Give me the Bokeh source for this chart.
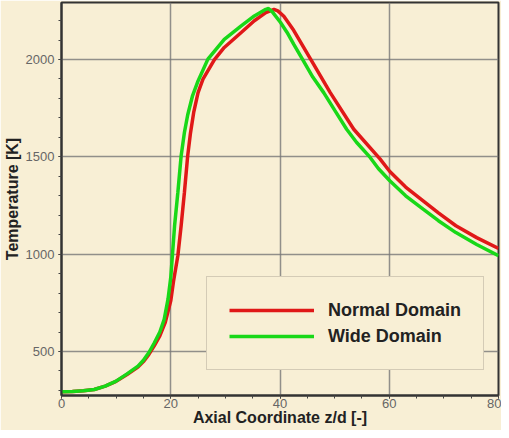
from bokeh.plotting import figure
from bokeh.models import Legend, LegendItem, SingleIntervalTicker, Range1d
from bokeh.embed import file_html
from bokeh.resources import INLINE

# Normal Domain (red)
z_normal = [0, 2, 4, 6, 8, 10, 12, 14, 15, 16, 17, 18, 19, 20, 20.5, 21.3, 21.9, 22.5,
            23.1, 23.6, 24.2, 25, 25.9, 28, 29.8, 32.9, 35.3, 37.4, 38.9, 39.6, 40.7,
            42.5, 45.6, 49.2, 53.5, 58.3, 60.1, 63, 66.2, 69, 72.2, 76, 80]
t_normal = [293, 295, 298, 305, 322, 347, 382, 420, 448, 485, 530, 580, 650, 760, 860,
            992, 1146, 1317, 1505, 1620, 1728, 1830, 1899, 2000, 2062, 2139, 2199, 2241,
            2258, 2250, 2222, 2150, 2002, 1830, 1642, 1490, 1425, 1345, 1274, 1212, 1146,
            1085, 1029]

# Wide Domain (green)
z_wide = [0, 2, 4, 6, 8, 10, 12, 14, 15, 16, 17, 18, 18.8, 19.5, 20, 20.3, 20.7, 21.3,
          21.9, 22.5, 23.1, 24, 25, 26.8, 29.8, 32.9, 35.3, 37.4, 37.9, 38.6, 40.1, 41.3,
          42.5, 44.1, 46, 48, 50, 52.2, 54, 56.5, 58, 60.1, 63, 66.2, 69, 72.2, 76, 80]
t_wide = [293, 295, 298, 305, 322, 348, 385, 425, 455, 495, 545, 600, 665, 769, 880, 992,
          1146, 1317, 1505, 1625, 1715, 1815, 1890, 2002, 2104, 2173, 2224, 2258, 2262,
          2245, 2190, 2139, 2079, 2002, 1910, 1830, 1740, 1642, 1575, 1497, 1440, 1377,
          1300, 1231, 1172, 1111, 1050, 992]

series_labels = ["Normal Domain", "Wide Domain"]
x_label = "Axial Coordinate z/d [-]"
y_label = "Temperature [K]"

BG = "#f8efd5"
FONT = "Liberation Sans"

p = figure(width=501, height=430, output_backend="svg", toolbar_location=None,
           x_range=Range1d(0, 80), y_range=Range1d(274, 2293),
           min_border_left=58, min_border_right=3, min_border_top=2, min_border_bottom=35,
           background_fill_color=BG, border_fill_color=BG)
# let the 430px figure sit flush in the 438px window without adding page scroll
p.styles = {"margin-bottom": "-16px"}

p.outline_line_color = "#333333"
p.outline_line_width = 2

p.xaxis.ticker = SingleIntervalTicker(interval=20, num_minor_ticks=4)
p.yaxis.ticker = SingleIntervalTicker(interval=500, num_minor_ticks=5)

for ax in (p.xaxis[0], p.yaxis[0]):
    ax.axis_line_color = "#333333"
    ax.axis_line_width = 2
    ax.major_tick_line_color = "#444444"
    ax.minor_tick_line_color = "#444444"
    ax.major_tick_in = 0
    ax.major_tick_out = 3
    ax.minor_tick_in = 0
    ax.minor_tick_out = 3
    ax.major_label_text_font = FONT
    ax.major_label_text_font_size = "13px"
    ax.major_label_text_color = "#666666"
    ax.axis_label_text_font = FONT
    ax.axis_label_text_font_size = "16px"
    ax.axis_label_text_font_style = "bold"
    ax.axis_label_text_color = "#222222"

p.xaxis.axis_label = x_label
p.yaxis.axis_label = y_label
p.xaxis.major_label_standoff = 0
p.xaxis.axis_label_standoff = -2
p.yaxis.major_label_standoff = 4
p.yaxis.axis_label_standoff = 2

p.xgrid.grid_line_color = "#777777"
p.ygrid.grid_line_color = "#777777"
p.xgrid.grid_line_alpha = 0.8
p.ygrid.grid_line_alpha = 0.8
p.xgrid.grid_line_width = 1.5
p.ygrid.grid_line_width = 1.5

r_normal = p.line(z_normal, t_normal, line_color="#e01818", line_width=3.5)
r_wide = p.line(z_wide, t_wide, line_color="#18d818", line_width=3.5)

legend = Legend(items=[LegendItem(label=series_labels[0], renderers=[r_normal]),
                       LegendItem(label=series_labels[1], renderers=[r_wide])],
                location=(145, 25), padding=22, spacing=4, margin=0,
                glyph_width=85, glyph_height=22, label_standoff=14,
                label_text_font=FONT, label_text_font_size="18px",
                label_text_font_style="bold", label_text_color="#222222",
                border_line_color="#b0a898", border_line_width=1.5,
                background_fill_color=BG, background_fill_alpha=1.0)
p.add_layout(legend, "center")

open("out.html", "w").write(file_html(p, INLINE))
